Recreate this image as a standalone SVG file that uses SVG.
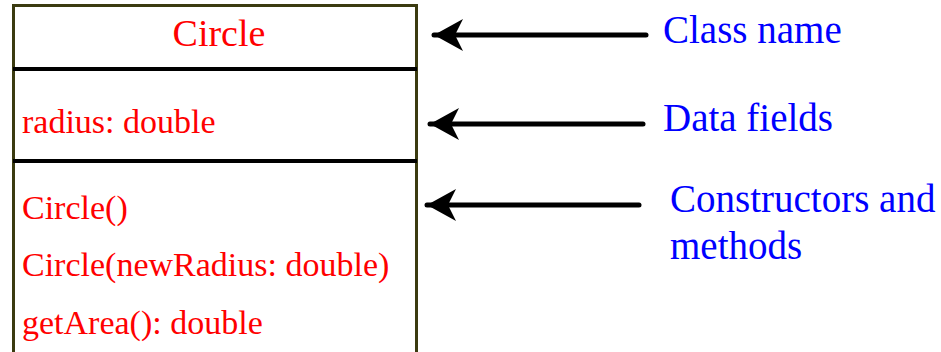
<svg xmlns="http://www.w3.org/2000/svg" width="941" height="352" viewBox="0 0 941 352">
<style>
.red{fill:#ff0000;font-family:"Liberation Serif","Times New Roman",serif;font-size:34px}
.title{font-size:38px}
.blue{fill:#0000ff;font-family:"Liberation Serif","Times New Roman",serif;font-size:39px}
.arr{stroke:#000;stroke-width:5;stroke-linecap:round;fill:none}
</style>
<defs>
<marker id="head" markerUnits="userSpaceOnUse" markerWidth="34" markerHeight="36" refX="32" refY="18" orient="auto" viewBox="0 0 34 36">
<path d="M32,18 L3,2 L11,18 L3,34 Z" fill="#000"/>
</marker>
</defs>
<rect width="941" height="352" fill="#fff"/>
<g id="circle-class">
<path d="M13.5,360 L13.5,5.5 L416.5,5.5 L416.5,360" fill="none" stroke="#3b3b10" stroke-width="3"/>
<line x1="13" y1="69" x2="417" y2="69" stroke="#000" stroke-width="4"/>
<line x1="13" y1="161" x2="417" y2="161" stroke="#000" stroke-width="4"/>
<text class="red title" x="219" y="46" text-anchor="middle">Circle</text>
<text class="red" x="22" y="133">radius: double</text>
<text class="red" x="22" y="219">Circle()</text>
<text class="red" x="22" y="276">Circle(newRadius: double)</text>
<text class="red" x="22" y="334">getArea(): double</text>
</g>
<g id="label-class-name"><text class="blue" x="663" y="43">Class name</text></g>
<g id="label-data-fields"><text class="blue" x="663" y="131">Data fields</text></g>
<g id="label-constructors"><text class="blue" x="670" y="212">Constructors and</text><text class="blue" x="670" y="259">methods</text></g>
<g id="connectors">
<line class="arr" x1="646" y1="35" x2="434" y2="35" marker-end="url(#head)"/>
<line class="arr" x1="643" y1="124" x2="430" y2="124" marker-end="url(#head)"/>
<line class="arr" x1="639" y1="205" x2="427" y2="205" marker-end="url(#head)"/>
</g>
</svg>
